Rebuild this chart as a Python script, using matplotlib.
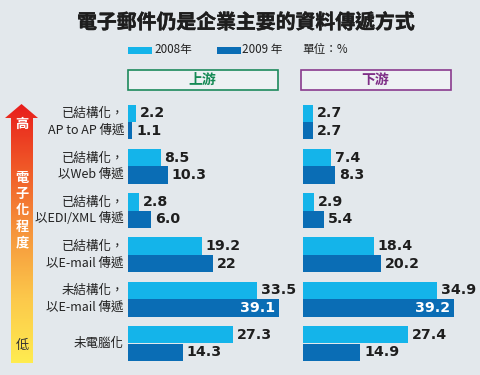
import numpy as np
import matplotlib
matplotlib.use("Agg")
import matplotlib.pyplot as plt
import matplotlib.patheffects as pe
from matplotlib.patches import Rectangle, Polygon

plt.rcParams['font.family'] = ['Noto Sans CJK TC', 'DejaVu Sans']

# data
categories = ["已結構化，\nAP to AP 傳遞", "已結構化，\n以Web 傳遞", "已結構化，\n以EDI/XML 傳遞",
              "已結構化，\n以E-mail 傳遞", "未結構化，\n以E-mail 傳遞", "未電腦化"]
years = ["2008年", "2009 年"]
up_2008 = [2.2, 8.5, 2.8, 19.2, 33.5, 27.3]
up_2009 = [1.1, 10.3, 6.0, 22, 39.1, 14.3]
down_2008 = [2.7, 7.4, 2.9, 18.4, 34.9, 27.4]
down_2009 = [2.7, 8.3, 5.4, 20.2, 39.2, 14.9]

C08 = '#14b4ea'
C09 = '#0a6db5'
BG = '#e3e8ec'
W, H = 480, 375

fig = plt.figure(figsize=(W / 100, H / 100), dpi=100, facecolor=BG)

# overlay in pixel coordinates for title, legend, headers, arrow
bg = fig.add_axes([0, 0, 1, 1], zorder=0)
bg.set_xlim(0, W)
bg.set_ylim(H, 0)
bg.axis('off')

bg.text(246, 22, "電子郵件仍是企業主要的資料傳遞方式", ha='center', va='center',
        fontsize=14.3, fontweight='bold', color='#1e1e1e',
        path_effects=[pe.withStroke(linewidth=0.35, foreground='#1e1e1e')])

# legend
bg.add_patch(Rectangle((128, 47), 24, 6.5, color=C08, lw=0))
bg.text(154, 50, years[0], ha='left', va='center', fontsize=8.4, color='#222')
bg.add_patch(Rectangle((217, 47), 24, 6.5, color=C09, lw=0))
bg.text(242, 50, years[1], ha='left', va='center', fontsize=8.4, color='#222')
bg.text(302, 50, "單位：%", ha='left', va='center', fontsize=8.4, color='#222')

# section headers
bg.add_patch(Rectangle((127.5, 69.5), 150, 20, facecolor='#eef1f3', edgecolor='#1e8a5c', lw=1.2))
bg.text(202.5, 79.5, "上游", ha='center', va='center', fontsize=10, fontweight='bold', color='#168a55')
bg.add_patch(Rectangle((300.5, 69.5), 150, 20, facecolor='#eef1f3', edgecolor='#8a3a8e', lw=1.2))
bg.text(375.5, 79.5, "下游", ha='center', va='center', fontsize=10, fontweight='bold', color='#7e2e86')

# gradient arrow
arrow = Polygon([(21.5, 104), (38, 118), (33, 118), (33, 363), (11, 363), (11, 118), (5, 118)],
                closed=True, facecolor='none', edgecolor='none')
bg.add_patch(arrow)
stops = np.array([[232, 30, 28], [240, 90, 40], [246, 150, 60], [252, 200, 75], [255, 236, 80]]) / 255
pos = np.linspace(0, 1, len(stops))
t = np.linspace(0, 1, 256)
grad = np.stack([np.interp(t, pos, stops[:, k]) for k in range(3)], axis=1)[:, None, :]
im = bg.imshow(grad, extent=(5, 38, 363, 104), aspect='auto', zorder=1)
im.set_clip_path(arrow)
bg.text(22, 124, "高", ha='center', va='center', fontsize=9.5, fontweight='bold', color='white', zorder=2)
for i, ch in enumerate("電子化程度"):
    bg.text(22, 178 + i * 16.2, ch, ha='center', va='center', fontsize=9.5, fontweight='bold',
            color='white', zorder=2)
bg.text(22, 346, "低", ha='center', va='center', fontsize=9.5, color='#333', zorder=2)

# category labels
gap = 44.3
for i, cat in enumerate(categories):
    bg.text(124, 122 + i * gap, cat, ha='right', va='center', fontsize=9,
            color='#222', linespacing=1.35)

# bar panels
px_per_unit = 3.85
bh = 0.395
y = np.arange(len(categories))
bottom = 1 - (122 + 5.5 * gap) / H
height = 6 * gap / H


def panel(left_px, v08, v09):
    ax = fig.add_axes([left_px / W, bottom, 160 / W, height], zorder=1)
    ax.patch.set_alpha(0)
    ax.set_xlim(0, 160 / px_per_unit)
    ax.set_ylim(5.5, -0.5)
    ax.axis('off')
    ax.barh(y - bh / 2, v08, height=bh, color=C08, lw=0)
    ax.barh(y + bh / 2, v09, height=bh, color=C09, lw=0)
    for yy, vals in ((y - bh / 2, v08), (y + bh / 2, v09)):
        for yi, v in zip(yy, vals):
            if v > 36:
                ax.text(v - 1.0, yi, str(v), ha='right', va='center', fontsize=10.2,
                        fontweight='bold', color='white', family='DejaVu Sans')
            else:
                ax.text(v + 1.0, yi, str(v), ha='left', va='center', fontsize=10.2,
                        fontweight='bold', color='#1e1e1e', family='DejaVu Sans')
    return ax


panel(128, up_2008, up_2009)
panel(303, down_2008, down_2009)

fig.savefig("out.png", dpi=100, facecolor=BG)
